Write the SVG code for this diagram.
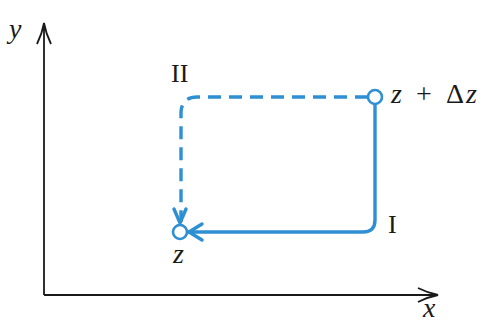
<svg xmlns="http://www.w3.org/2000/svg" width="487" height="325" viewBox="0 0 487 325">
<style>
.ax{fill:none;stroke:#1a1a1a;stroke-width:1.8}
.bl{fill:none;stroke:#2e8fd2;stroke-width:3.4;stroke-linecap:round;stroke-linejoin:round}
.dash{stroke-dasharray:13,8;stroke-linecap:butt}
.pt{fill:#fff;stroke:#2e8fd2;stroke-width:2.6}
.it{font-family:'Liberation Serif',serif;font-style:italic;font-size:28px;fill:#1a1a1a}
.rm{font-family:'Liberation Serif',serif;font-size:26px;fill:#1a1a1a}
</style>
<g id="axes">
<path class="ax" d="M44,295 V24 M37,44 Q42,34 44,23 Q46,34 51,44"/>
<path class="ax" d="M44,295 H437 M418,288 Q428,293 438,295 Q428,297 418,302"/>
<text class="it" x="9" y="38">y</text>
<text class="it" x="423" y="317" font-size="26">x</text>
</g>
<g id="connectors">
<path class="bl" d="M375,104 V220 Q375,232 363,232 H189"/>
<path class="bl" d="M202,224 L189,232 L202,240"/>
<path class="bl dash" d="M368,97 H197 Q182,97 181,112 V222"/>
<path class="bl" d="M174,209 L180,223 L186,209"/>
</g>
<g id="node-z">
<circle class="pt" cx="180" cy="232" r="7"/>
<text class="it" x="173" y="263">z</text>
</g>
<g id="node-zdz">
<circle class="pt" cx="375" cy="97" r="7"/>
<text class="it" y="103"><tspan x="391">z</tspan><tspan x="416" font-style="normal">+</tspan><tspan x="446" font-style="normal">Δ</tspan><tspan x="466">z</tspan></text>
</g>
<text class="rm" x="171" y="82">II</text>
<text class="rm" x="388" y="233">I</text>
</svg>
